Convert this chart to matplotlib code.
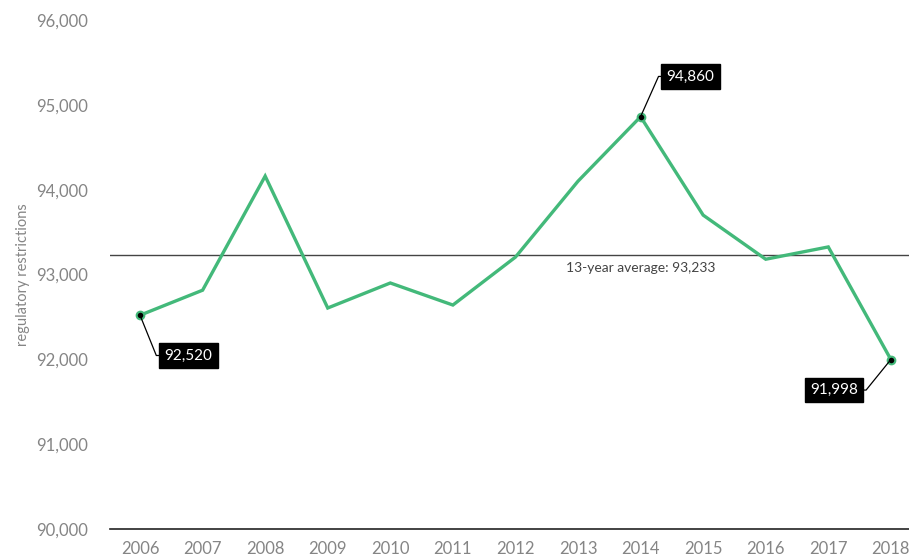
import matplotlib.pyplot as plt

# --- data ---
years = [2006, 2007, 2008, 2009, 2010, 2011, 2012, 2013, 2014, 2015, 2016, 2017, 2018]
restrictions = [92520, 92815, 94160, 92605, 92900, 92640, 93205, 94100, 94860, 93700, 93180, 93325, 91998]
average = 93233
labelled_years = [2006, 2014, 2018]

plt.rcParams['font.family'] = ['Lato', 'DejaVu Sans']

fig = plt.figure(figsize=(9.09, 5.58), dpi=100)
ax = fig.add_axes([110 / 909, 1 - 529 / 558, 1 - 110 / 909, (529 - 20) / 558])

green = '#43b97a'
gray = '#858585'

ax.plot(years, restrictions, color=green, lw=2.4, solid_joinstyle='miter', zorder=3)

# average reference line
ax.axhline(average, color='#444444', lw=1.0, zorder=2)
ax.text(2014, average - 80, f"13-year average: {average:,}", ha='center', va='top',
        fontsize=10, color='#444444')

# labelled points with leader lines (text offset in points, leader angle)
offsets = {2006: (35, -29, -68), 2014: (36, 29, 66), 2018: (-41, -22, 51)}
for yr in labelled_years:
    val = restrictions[years.index(yr)]
    ax.plot(yr, val, 'o', ms=5.5, mfc='black', mec=green, mew=1.5, zorder=5)
    dx, dy, ang = offsets[yr]
    ax.annotate(f"{val:,}", xy=(yr, val), xytext=(dx, dy), textcoords='offset points',
                ha='center', va='center', fontsize=11, color='white',
                bbox=dict(boxstyle='square,pad=0.35', fc='black', ec='black'),
                arrowprops=dict(arrowstyle='-', color='black', lw=0.9, shrinkA=0, shrinkB=0,
                                connectionstyle=f"angle,angleA=0,angleB={ang},rad=0"),
                zorder=6)

ax.set_xlim(2005.52, 2018.29)
ax.set_ylim(90000, 96000)
ax.set_xticks(years)
ax.set_yticks(range(90000, 96001, 1000))
ax.yaxis.set_major_formatter(plt.FuncFormatter(lambda v, p: f"{int(v):,}"))

for s in ['top', 'right', 'left']:
    ax.spines[s].set_visible(False)
ax.spines['bottom'].set_color('#222222')
ax.spines['bottom'].set_linewidth(1.2)
ax.tick_params(length=0, labelsize=12, colors=gray, pad=9)
ax.tick_params(axis='y', pad=16)
ax.set_ylabel("regulatory restrictions", fontsize=10.5, color=gray, labelpad=4)

fig.savefig('out.png', dpi=100)
